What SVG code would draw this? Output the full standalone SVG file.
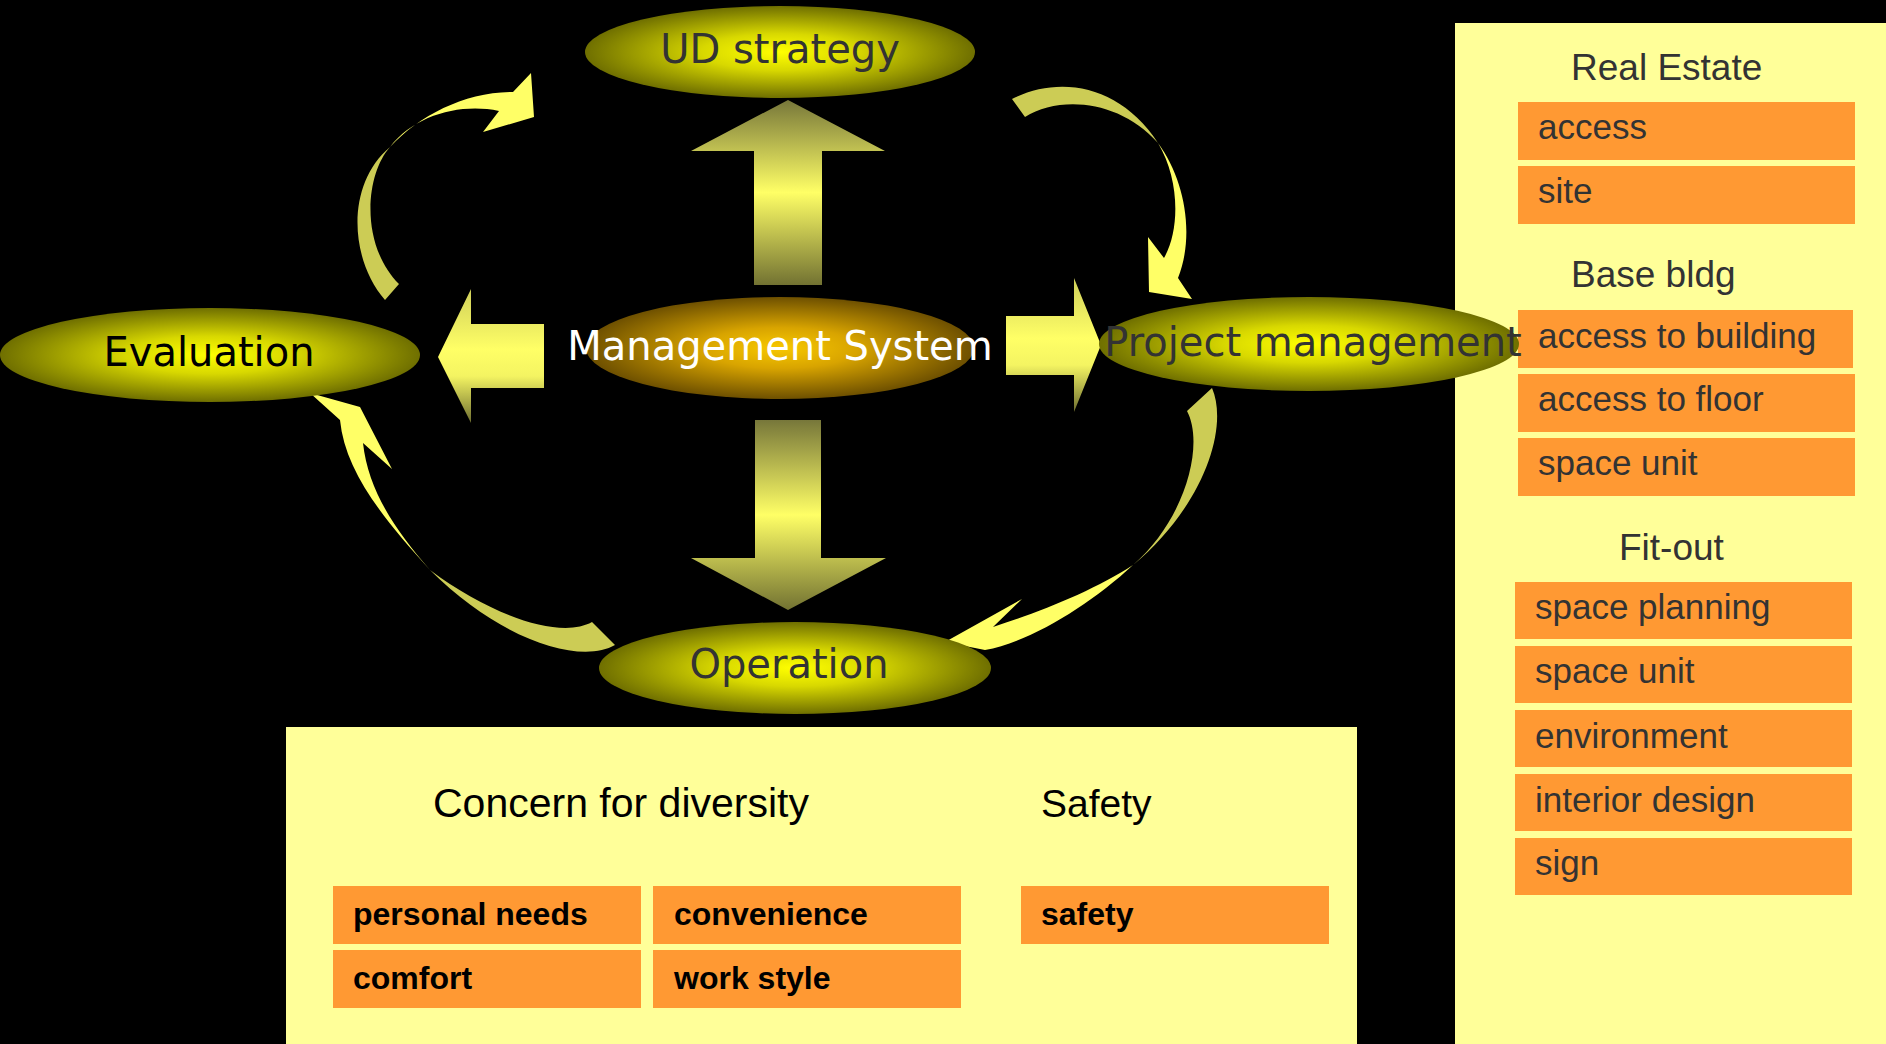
<svg xmlns="http://www.w3.org/2000/svg" width="1886" height="1044" viewBox="0 0 1886 1044">
<defs>
<radialGradient id="gEll" cx="0.5" cy="0.5" r="0.5">
<stop offset="0" stop-color="#ffff00"/>
<stop offset="0.4" stop-color="#d8d800"/>
<stop offset="1" stop-color="#6f6f00"/>
</radialGradient>
<radialGradient id="gMgmt" cx="0.5" cy="0.5" r="0.5">
<stop offset="0" stop-color="#f8c800"/>
<stop offset="0.4" stop-color="#d8a400"/>
<stop offset="1" stop-color="#6e5000"/>
</radialGradient>
<linearGradient id="gVert" x1="0" y1="0" x2="0" y2="1">
<stop offset="0" stop-color="#77773a"/>
<stop offset="0.5" stop-color="#ffff66"/>
<stop offset="1" stop-color="#727232"/>
</linearGradient>
<linearGradient id="gHoriz" x1="0" y1="0" x2="0" y2="1">
<stop offset="0" stop-color="#d0d05a"/>
<stop offset="0.45" stop-color="#ffff66"/>
<stop offset="0.65" stop-color="#f4f462"/>
<stop offset="1" stop-color="#6e6e30"/>
</linearGradient>
<style>
.panel{fill:#ffff99}
.box{fill:#ff9933}
.head{font-family:"Liberation Sans",Arial,sans-serif;font-size:37px;fill:#333333}
.item{font-family:"Liberation Sans",Arial,sans-serif;font-size:35px;fill:#333333}
.bhead{font-family:"Liberation Sans",Arial,sans-serif;font-size:41px;fill:#000000}
.bitem{font-family:"Liberation Sans",Arial,sans-serif;font-size:32px;font-weight:bold;fill:#000000}
.ell{font-family:"DejaVu Sans",Verdana,sans-serif;font-size:40px;text-anchor:middle}
.tail{fill:#cccc55}
.tip{fill:#ffff66}
</style>
</defs>
<rect width="1886" height="1044" fill="#000000"/>

<g id="panel-right">
<rect class="panel" x="1455" y="23" width="431" height="1021"/>
<text class="head" x="1571" y="80">Real Estate</text>
<rect class="box" x="1518" y="102" width="337" height="58"/>
<text class="item" x="1538" y="139">access</text>
<rect class="box" x="1518" y="166" width="337" height="58"/>
<text class="item" x="1538" y="203">site</text>
<text class="head" x="1571" y="287">Base bldg</text>
<rect class="box" x="1518" y="310" width="335" height="58"/>
<text class="item" x="1538" y="348">access to building</text>
<rect class="box" x="1518" y="374" width="337" height="58"/>
<text class="item" x="1538" y="411">access to floor</text>
<rect class="box" x="1518" y="438" width="337" height="58"/>
<text class="item" x="1538" y="475">space unit</text>
<text class="head" x="1619" y="560">Fit-out</text>
<rect class="box" x="1515" y="582" width="337" height="57"/>
<text class="item" x="1535" y="619">space planning</text>
<rect class="box" x="1515" y="646" width="337" height="57"/>
<text class="item" x="1535" y="683">space unit</text>
<rect class="box" x="1515" y="710" width="337" height="57"/>
<text class="item" x="1535" y="748">environment</text>
<rect class="box" x="1515" y="774" width="337" height="57"/>
<text class="item" x="1535" y="812">interior design</text>
<rect class="box" x="1515" y="838" width="337" height="57"/>
<text class="item" x="1535" y="875">sign</text>
</g>

<g id="panel-bottom">
<rect class="panel" x="286" y="727" width="1071" height="317"/>
<text class="bhead" x="433" y="817">Concern for diversity</text>
<text class="bhead" x="1041" y="817" style="font-size:39px">Safety</text>
<rect class="box" x="333" y="886" width="308" height="58"/>
<text class="bitem" x="353" y="925">personal needs</text>
<rect class="box" x="653" y="886" width="308" height="58"/>
<text class="bitem" x="674" y="925">convenience</text>
<rect class="box" x="333" y="950" width="308" height="58"/>
<text class="bitem" x="353" y="989">comfort</text>
<rect class="box" x="653" y="950" width="308" height="58"/>
<text class="bitem" x="674" y="989">work style</text>
<rect class="box" x="1021" y="886" width="308" height="58"/>
<text class="bitem" x="1041" y="925">safety</text>
</g>

<g id="connectors">
<polygon fill="url(#gVert)" points="788,100 885,151 822,151 822,285 754,285 754,151 691,151"/>
<polygon fill="url(#gVert)" points="755,420 821,420 821,558 886,558 788,610 691,558 755,558"/>
<polygon fill="url(#gHoriz)" points="438,357 471,289 471,324 544,324 544,388 471,388 471,423"/>
<polygon fill="url(#gHoriz)" points="1006,316 1074,316 1074,278 1101,345 1074,412 1074,375 1006,375"/>

<path class="tail" d="M385,300 C350,260 345,185 390,147 C365,175 360,245 399,284 Z"/>
<path class="tip" d="M390,147 C420,115 465,92 513,92 L531,73 L534,117 L483,132 L499,111 C460,103 415,115 390,147 Z"/>

<path class="tail" d="M1012,99 C1060,75 1120,85 1158,143 C1120,100 1060,95 1025,117 Z"/>
<path class="tip" d="M1158,143 C1185,180 1195,235 1178,278 L1192,299 L1149,292 L1148,237 L1164,258 C1180,230 1180,180 1158,143 Z"/>

<path class="tail" d="M1212,388 C1230,430 1200,510 1133,565 C1185,520 1205,445 1187,411 Z"/>
<path class="tip" d="M1133,565 C1090,605 1030,642 985,650 L945,642 L1022,599 L993,627 C1040,612 1095,590 1133,565 Z"/>

<path class="tail" d="M615,645 C580,665 500,640 430,570 C490,615 560,640 592,622 Z"/>
<path class="tip" d="M430,570 C380,515 345,470 340,420 L310,393 L360,407 L392,469 L363,443 C368,490 395,530 430,570 Z"/>
</g>

<g id="node-ud-strategy">
<ellipse cx="780" cy="52" rx="195" ry="46" fill="url(#gEll)"/>
<text class="ell" x="780" y="63" fill="#333333">UD strategy</text>
</g>
<g id="node-management-system">
<ellipse cx="780" cy="348" rx="194" ry="51" fill="url(#gMgmt)"/>
<text class="ell" x="780" y="360" fill="#ffffff">Management System</text>
</g>
<g id="node-evaluation">
<ellipse cx="210" cy="355" rx="210" ry="47" fill="url(#gEll)"/>
<text class="ell" x="209" y="366" fill="#000000">Evaluation</text>
</g>
<g id="node-project-management">
<ellipse cx="1309" cy="344" rx="210" ry="47" fill="url(#gEll)"/>
<text class="ell" x="1313" y="356" fill="#333333">Project management</text>
</g>
<g id="node-operation">
<ellipse cx="795" cy="668" rx="196" ry="46" fill="url(#gEll)"/>
<text class="ell" x="789" y="678" fill="#333333">Operation</text>
</g>
</svg>
